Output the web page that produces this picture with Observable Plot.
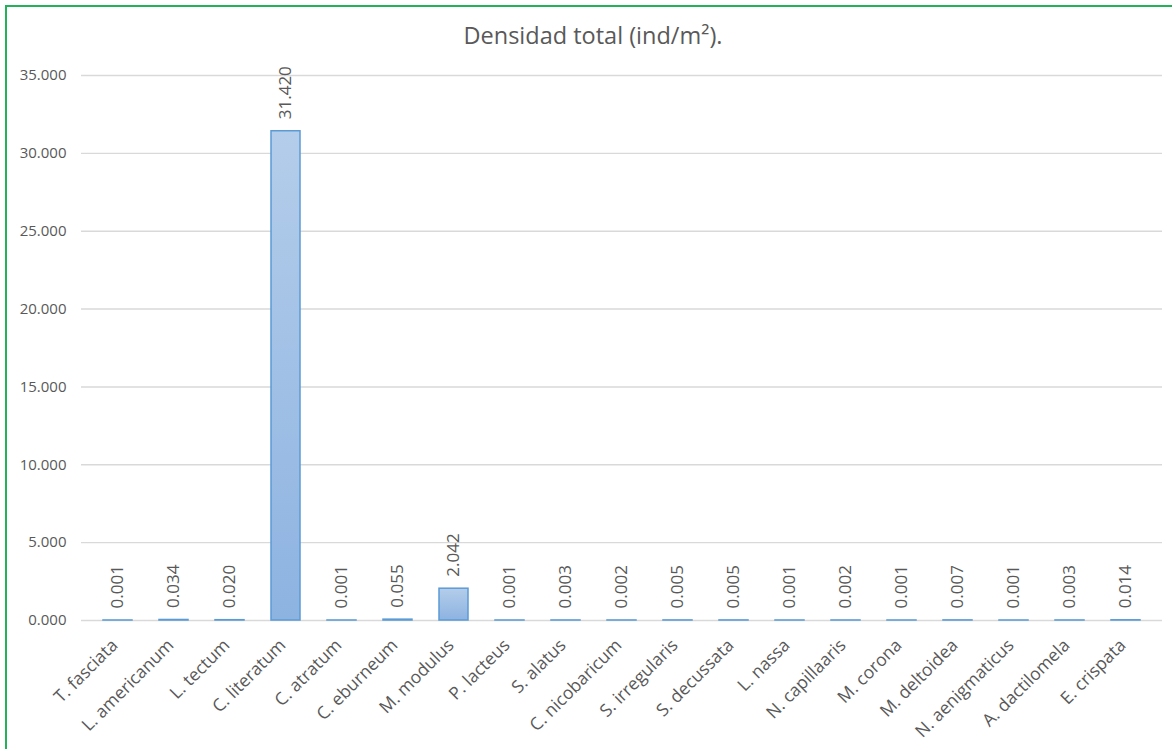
<!DOCTYPE html>
<html>
<head>
<meta charset="utf-8">
<script src="https://cdn.jsdelivr.net/npm/d3@7"></script>
<script src="https://cdn.jsdelivr.net/npm/@observablehq/plot@0.6"></script>
<style>
  html, body { margin: 0; padding: 0; background: #ffffff; }
  #wrap { position: relative; width: 1172px; height: 749px; overflow: hidden; background: #ffffff; }
  #frame { position: absolute; left: 5px; top: 5px; right: -4px; bottom: -4px; border-left: 2px solid #23b257; border-top: 2px solid #23b257; pointer-events: none; }
  #title { height: 60px; width: 1172px; box-sizing: border-box; padding-left: 14px; text-align: center; font-family: "Open Sans", "Noto Sans", sans-serif; font-size: 23.5px; color: #595959; line-height: 70px; white-space: nowrap; }
  #chart svg { display: block; }
</style>
</head>
<body>
<div id="wrap">
  <div id="title">Densidad total (ind/m²).</div>
  <div id="chart"></div>
  <div id="frame"></div>
</div>
<script>
const species = ["T. fasciata", "L. americanum", "L. tectum", "C. literatum", "C. atratum", "C. eburneum", "M. modulus", "P. lacteus", "S. alatus", "C. nicobaricum", "S. irregularis", "S. decussata", "L. nassa", "N. capillaaris", "M. corona", "M. deltoidea", "N. aenigmaticus", "A. dactilomela", "E. crispata"];
const densidad = [0.001, 0.034, 0.020, 31.420, 0.001, 0.055, 2.042, 0.001, 0.003, 0.002, 0.005, 0.005, 0.001, 0.002, 0.001, 0.007, 0.001, 0.003, 0.014];
const yTicks = [0, 5, 10, 15, 20, 25, 30, 35];

const fmt = d3.format(".3f");
const data = species.map((s, i) => ({species: s, value: densidad[i]}));

const chart = Plot.plot({
  width: 1172,
  height: 689,
  marginTop: 15,
  marginBottom: 129,
  marginLeft: 81,
  marginRight: 10,
  style: {fontFamily: "'Open Sans', 'Noto Sans', sans-serif", color: "#595959", background: "transparent"},
  x: {domain: species, paddingInner: 0.49, paddingOuter: 0.245, label: null},
  y: {domain: [0, 35], label: null},
  marks: [
    Plot.gridY(yTicks, {stroke: "#d9d9d9", strokeOpacity: 1, strokeWidth: 1.4}),
    Plot.axisY(yTicks, {tickSize: 0, tickPadding: 15, fontSize: 15, fill: "#595959", tickFormat: fmt, label: null}),
    Plot.axisX({tickSize: 0, tickPadding: 17, tickRotate: -45, textAnchor: "end", lineAnchor: "top", dx: -8, fontSize: 17.5, fill: "#595959", label: null}),
    Plot.barY(data, {x: "species", y: "value", fill: "url(#barGrad)", stroke: "#5b9bd5", strokeWidth: 1.5}),
    Plot.text(data, {x: "species", y: "value", text: d => fmt(d.value), rotate: -90, textAnchor: "start", dy: -12, fontSize: 17, fill: "#595959"})
  ]
});

const ns = "http://www.w3.org/2000/svg";
const defs = document.createElementNS(ns, "defs");
defs.innerHTML = '<linearGradient id="barGrad" x1="0" y1="0" x2="0" y2="1">' +
  '<stop offset="0" stop-color="#b4cdea"/><stop offset="1" stop-color="#8db3e1"/></linearGradient>';
chart.insertBefore(defs, chart.firstChild);

document.getElementById("chart").appendChild(chart);
</script>
</body>
</html>
